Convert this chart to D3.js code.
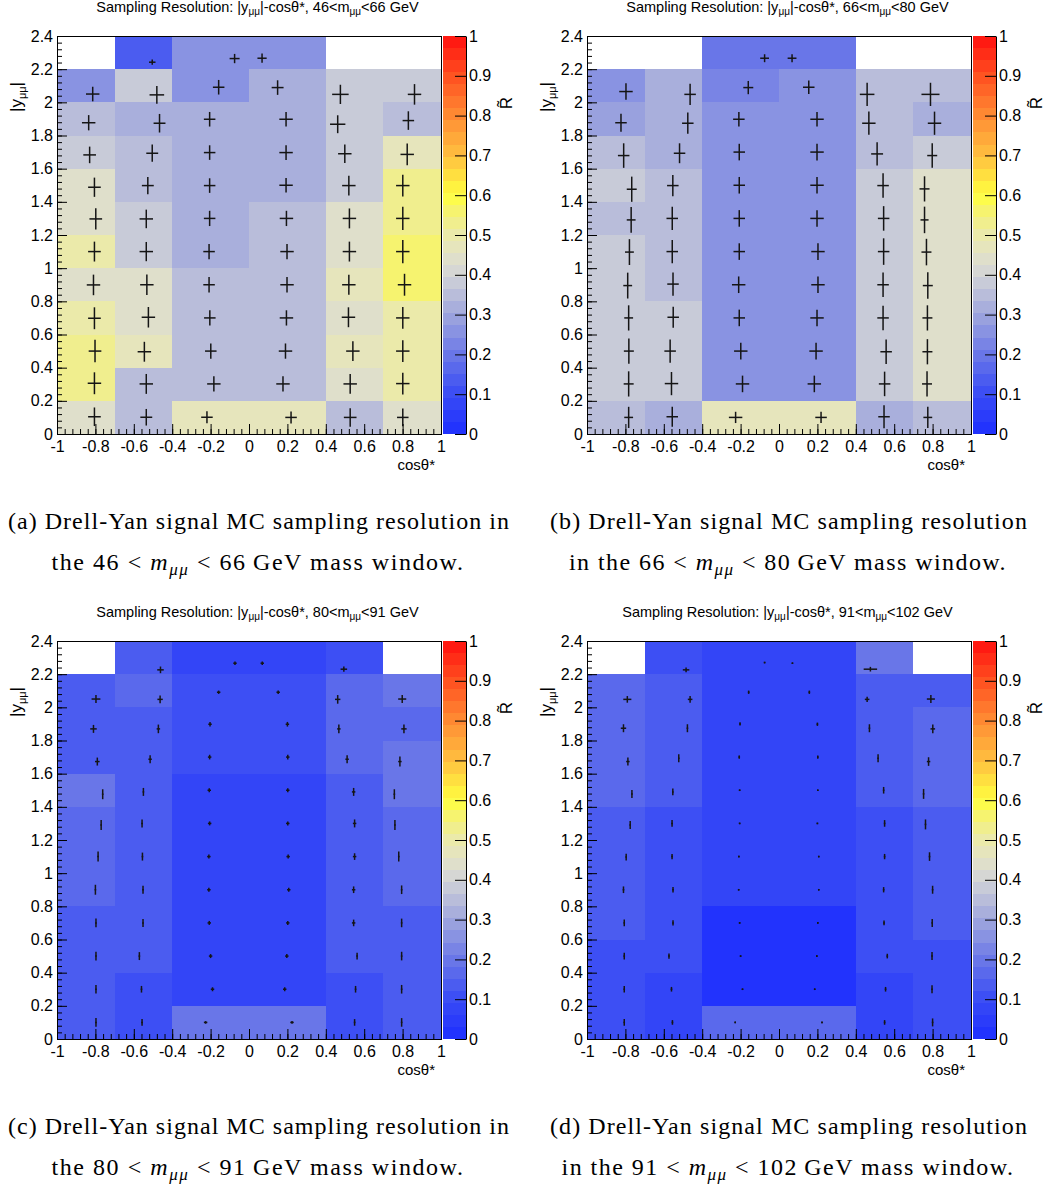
<!DOCTYPE html>
<html>
<head>
<meta charset="utf-8">
<script src="https://cdn.jsdelivr.net/npm/d3@7"></script>
<style>
  body { margin: 0; background: #fff; }
  svg { display: block; }
  text { font-family: "Liberation Sans", Arial, sans-serif; fill: #000; }
  .cap { font-family: "Liberation Serif", "Times New Roman", serif; font-size: 24px; }
</style>
</head>
<body>
<svg id="fig" width="1053" height="1188"></svg>
<script>
// bin edges and ticks
var xEdges = [-1, -0.7, -0.4, 0, 0.4, 0.7, 1];
var yEdges = [0, 0.2, 0.4, 0.6, 0.8, 1.0, 1.2, 1.4, 1.6, 1.8, 2.0, 2.2, 2.4];
var xTickVals = [-1, -0.8, -0.6, -0.4, -0.2, 0, 0.2, 0.4, 0.6, 0.8, 1];
var yTickVals = [0, 0.2, 0.4, 0.6, 0.8, 1, 1.2, 1.4, 1.6, 1.8, 2, 2.2, 2.4];
var zTickVals = [0, 0.1, 0.2, 0.3, 0.4, 0.5, 0.6, 0.7, 0.8, 0.9, 1];

// palette (blue -> grey -> yellow -> red), 33 discrete contours
var palStops = [0, 0.1, 0.2, 0.3, 0.4, 0.45, 0.5, 0.55, 0.6, 0.7, 0.8, 0.9, 1];
var palColors = ["#1e2eff", "#3a4cf5", "#6a77e8", "#a0a7dd", "#d3d5d7", "#e2e2c8", "#ebeaaa",
                 "#f3f07c", "#ffff40", "#ffc040", "#ff8a33", "#ff5020", "#ff1010"];
var nContours = 33;

// cell values R~, rows listed top (2.2-2.4) to bottom (0-0.2), columns by xEdges
var valuesA = [
  [null, 0.14, 0.26, 0.26, null, null],
  [0.26, 0.39, 0.26, 0.31, 0.39, 0.39],
  [0.36, 0.32, 0.31, 0.31, 0.38, 0.36],
  [0.39, 0.36, 0.31, 0.32, 0.39, 0.48],
  [0.45, 0.36, 0.32, 0.32, 0.39, 0.52],
  [0.45, 0.39, 0.32, 0.36, 0.43, 0.52],
  [0.50, 0.39, 0.32, 0.36, 0.43, 0.56],
  [0.45, 0.43, 0.36, 0.36, 0.46, 0.56],
  [0.50, 0.43, 0.36, 0.36, 0.43, 0.51],
  [0.54, 0.46, 0.36, 0.36, 0.46, 0.51],
  [0.54, 0.36, 0.36, 0.36, 0.43, 0.51],
  [0.43, 0.36, 0.46, 0.46, 0.36, 0.43]
];
var valuesB = [
  [null, null, 0.20, 0.20, null, null],
  [0.26, 0.32, 0.22, 0.26, 0.36, 0.36],
  [0.28, 0.32, 0.26, 0.27, 0.36, 0.32],
  [0.36, 0.32, 0.27, 0.27, 0.36, 0.39],
  [0.39, 0.36, 0.27, 0.27, 0.39, 0.43],
  [0.36, 0.36, 0.27, 0.27, 0.39, 0.43],
  [0.39, 0.36, 0.27, 0.27, 0.39, 0.43],
  [0.39, 0.36, 0.27, 0.27, 0.39, 0.43],
  [0.39, 0.39, 0.27, 0.27, 0.39, 0.43],
  [0.39, 0.39, 0.27, 0.27, 0.39, 0.43],
  [0.39, 0.39, 0.27, 0.27, 0.39, 0.43],
  [0.36, 0.32, 0.46, 0.46, 0.32, 0.36]
];
var valuesC = [
  [null, 0.14, 0.085, 0.085, 0.10, null],
  [0.14, 0.16, 0.105, 0.105, 0.16, 0.20],
  [0.14, 0.14, 0.105, 0.105, 0.16, 0.16],
  [0.14, 0.14, 0.105, 0.105, 0.16, 0.20],
  [0.20, 0.14, 0.08, 0.08, 0.14, 0.20],
  [0.16, 0.14, 0.08, 0.08, 0.14, 0.16],
  [0.16, 0.14, 0.08, 0.08, 0.14, 0.16],
  [0.16, 0.14, 0.08, 0.08, 0.14, 0.16],
  [0.14, 0.14, 0.08, 0.08, 0.14, 0.14],
  [0.14, 0.14, 0.08, 0.08, 0.14, 0.14],
  [0.14, 0.10, 0.08, 0.08, 0.10, 0.14],
  [0.14, 0.10, 0.20, 0.20, 0.10, 0.14]
];
var valuesD = [
  [null, 0.10, 0.085, 0.085, 0.20, null],
  [0.16, 0.14, 0.085, 0.085, 0.125, 0.125],
  [0.16, 0.14, 0.085, 0.085, 0.125, 0.16],
  [0.16, 0.14, 0.085, 0.085, 0.125, 0.16],
  [0.16, 0.14, 0.085, 0.085, 0.125, 0.16],
  [0.14, 0.105, 0.085, 0.085, 0.10, 0.14],
  [0.14, 0.105, 0.085, 0.085, 0.10, 0.14],
  [0.14, 0.105, 0.085, 0.085, 0.10, 0.14],
  [0.14, 0.105, 0.02, 0.02, 0.10, 0.14],
  [0.105, 0.105, 0.02, 0.02, 0.10, 0.105],
  [0.105, 0.085, 0.02, 0.02, 0.085, 0.105],
  [0.105, 0.085, 0.16, 0.16, 0.085, 0.105]
];

// markers: [mean cos, mean |y|, x error, y error]
var markersA = [
  [-0.504, 2.242, 0.017, 0.016], [-0.075, 2.264, 0.026, 0.028], [0.068, 2.266, 0.024, 0.028],
  [-0.814, 2.05, 0.035, 0.044], [-0.48, 2.045, 0.038, 0.054], [-0.158, 2.091, 0.030, 0.044],
  [0.149, 2.089, 0.031, 0.044], [0.476, 2.048, 0.043, 0.058], [0.862, 2.048, 0.035, 0.062],
  [-0.835, 1.877, 0.035, 0.046], [-0.466, 1.874, 0.031, 0.056], [-0.205, 1.898, 0.030, 0.044],
  [0.193, 1.898, 0.035, 0.044], [0.462, 1.868, 0.040, 0.054], [0.83, 1.89, 0.030, 0.056],
  [-0.83, 1.683, 0.033, 0.05], [-0.504, 1.693, 0.031, 0.052], [-0.205, 1.697, 0.030, 0.044],
  [0.193, 1.697, 0.035, 0.044], [0.499, 1.69, 0.035, 0.056], [0.824, 1.686, 0.035, 0.066],
  [-0.805, 1.488, 0.033, 0.058], [-0.527, 1.498, 0.031, 0.052], [-0.205, 1.498, 0.030, 0.044],
  [0.193, 1.50, 0.035, 0.044], [0.52, 1.498, 0.035, 0.06], [0.801, 1.498, 0.035, 0.066],
  [-0.798, 1.297, 0.033, 0.064], [-0.535, 1.297, 0.035, 0.056], [-0.205, 1.30, 0.030, 0.046],
  [0.195, 1.30, 0.035, 0.046], [0.523, 1.30, 0.035, 0.06], [0.801, 1.30, 0.035, 0.07],
  [-0.805, 1.10, 0.033, 0.06], [-0.535, 1.10, 0.035, 0.058], [-0.208, 1.10, 0.030, 0.046],
  [0.198, 1.10, 0.035, 0.046], [0.523, 1.10, 0.035, 0.06], [0.801, 1.10, 0.035, 0.07],
  [-0.81, 0.899, 0.035, 0.062], [-0.532, 0.90, 0.035, 0.062], [-0.208, 0.90, 0.030, 0.046],
  [0.198, 0.90, 0.035, 0.046], [0.52, 0.90, 0.035, 0.06], [0.81, 0.90, 0.035, 0.066],
  [-0.805, 0.698, 0.033, 0.066], [-0.524, 0.704, 0.035, 0.062], [-0.204, 0.70, 0.030, 0.046],
  [0.195, 0.70, 0.035, 0.046], [0.518, 0.704, 0.035, 0.06], [0.801, 0.70, 0.035, 0.066],
  [-0.802, 0.50, 0.033, 0.068], [-0.545, 0.496, 0.035, 0.06], [-0.199, 0.50, 0.030, 0.046],
  [0.19, 0.50, 0.035, 0.046], [0.541, 0.50, 0.035, 0.06], [0.801, 0.50, 0.035, 0.066],
  [-0.805, 0.306, 0.035, 0.066], [-0.535, 0.302, 0.035, 0.06], [-0.183, 0.302, 0.035, 0.046],
  [0.177, 0.302, 0.035, 0.046], [0.527, 0.302, 0.035, 0.06], [0.801, 0.304, 0.035, 0.066],
  [-0.805, 0.104, 0.033, 0.056], [-0.535, 0.101, 0.031, 0.05], [-0.219, 0.101, 0.030, 0.036],
  [0.219, 0.10, 0.030, 0.036], [0.527, 0.10, 0.033, 0.056], [0.801, 0.10, 0.030, 0.054]
];
var markersB = [
  [-0.075, 2.266, 0.023, 0.024], [0.068, 2.266, 0.023, 0.024],
  [-0.797, 2.065, 0.035, 0.05], [-0.463, 2.048, 0.030, 0.064], [-0.16, 2.089, 0.026, 0.04],
  [0.155, 2.091, 0.030, 0.04], [0.459, 2.048, 0.038, 0.07], [0.789, 2.048, 0.047, 0.07],
  [-0.823, 1.877, 0.030, 0.054], [-0.475, 1.874, 0.030, 0.064], [-0.209, 1.898, 0.030, 0.044],
  [0.198, 1.898, 0.035, 0.044], [0.468, 1.874, 0.035, 0.07], [0.81, 1.874, 0.035, 0.07],
  [-0.809, 1.679, 0.030, 0.074], [-0.518, 1.693, 0.030, 0.06], [-0.207, 1.70, 0.030, 0.05],
  [0.198, 1.70, 0.035, 0.05], [0.511, 1.689, 0.031, 0.07], [0.798, 1.679, 0.026, 0.074],
  [-0.767, 1.476, 0.026, 0.076], [-0.553, 1.498, 0.030, 0.064], [-0.207, 1.50, 0.030, 0.05],
  [0.198, 1.50, 0.035, 0.05], [0.542, 1.498, 0.030, 0.074], [0.758, 1.478, 0.026, 0.076],
  [-0.77, 1.291, 0.023, 0.078], [-0.556, 1.30, 0.030, 0.07], [-0.207, 1.30, 0.030, 0.05],
  [0.198, 1.30, 0.035, 0.05], [0.545, 1.30, 0.030, 0.074], [0.758, 1.291, 0.021, 0.08],
  [-0.779, 1.097, 0.023, 0.078], [-0.556, 1.10, 0.030, 0.07], [-0.207, 1.10, 0.030, 0.05],
  [0.203, 1.10, 0.035, 0.05], [0.545, 1.10, 0.030, 0.08], [0.768, 1.097, 0.026, 0.08],
  [-0.788, 0.895, 0.023, 0.078], [-0.552, 0.904, 0.030, 0.07], [-0.21, 0.90, 0.035, 0.05],
  [0.203, 0.90, 0.035, 0.05], [0.542, 0.90, 0.030, 0.074], [0.775, 0.895, 0.026, 0.08],
  [-0.783, 0.70, 0.023, 0.076], [-0.551, 0.704, 0.030, 0.064], [-0.207, 0.70, 0.030, 0.05],
  [0.198, 0.70, 0.035, 0.05], [0.542, 0.70, 0.030, 0.074], [0.773, 0.70, 0.026, 0.076],
  [-0.782, 0.50, 0.026, 0.076], [-0.567, 0.50, 0.030, 0.07], [-0.199, 0.50, 0.035, 0.05],
  [0.193, 0.50, 0.035, 0.05], [0.558, 0.496, 0.030, 0.074], [0.773, 0.496, 0.026, 0.076],
  [-0.783, 0.302, 0.026, 0.076], [-0.56, 0.304, 0.035, 0.07], [-0.19, 0.302, 0.035, 0.05],
  [0.184, 0.302, 0.035, 0.05], [0.55, 0.302, 0.030, 0.074], [0.771, 0.302, 0.026, 0.076],
  [-0.783, 0.10, 0.023, 0.064], [-0.556, 0.104, 0.030, 0.06], [-0.226, 0.10, 0.035, 0.034],
  [0.219, 0.10, 0.030, 0.034], [0.547, 0.104, 0.030, 0.07], [0.775, 0.10, 0.023, 0.064]
];
var markersC = [
  [-0.461, 2.226, 0.017, 0.02], [-0.073, 2.266, 0.009, 0.01], [0.069, 2.266, 0.009, 0.01], [0.494, 2.23, 0.017, 0.016],
  [-0.797, 2.05, 0.023, 0.024], [-0.463, 2.048, 0.014, 0.024], [-0.158, 2.091, 0.009, 0.01],
  [0.152, 2.091, 0.009, 0.01], [0.462, 2.048, 0.014, 0.026], [0.798, 2.05, 0.021, 0.024],
  [-0.81, 1.87, 0.017, 0.024], [-0.472, 1.87, 0.009, 0.026], [-0.203, 1.898, 0.009, 0.014],
  [0.2, 1.898, 0.009, 0.014], [0.468, 1.87, 0.009, 0.026], [0.807, 1.87, 0.014, 0.026],
  [-0.79, 1.673, 0.012, 0.024], [-0.515, 1.687, 0.009, 0.024], [-0.205, 1.70, 0.009, 0.014],
  [0.202, 1.70, 0.009, 0.014], [0.511, 1.687, 0.009, 0.024], [0.786, 1.673, 0.009, 0.03],
  [-0.762, 1.476, 0.004, 0.03], [-0.55, 1.49, 0.004, 0.024], [-0.207, 1.50, 0.009, 0.012],
  [0.202, 1.50, 0.009, 0.012], [0.545, 1.49, 0.009, 0.024], [0.757, 1.476, 0.004, 0.03],
  [-0.77, 1.291, 0.004, 0.03], [-0.557, 1.30, 0.004, 0.024], [-0.205, 1.30, 0.009, 0.012],
  [0.202, 1.30, 0.009, 0.012], [0.55, 1.30, 0.009, 0.024], [0.76, 1.291, 0.004, 0.03],
  [-0.786, 1.10, 0.004, 0.03], [-0.555, 1.10, 0.004, 0.024], [-0.209, 1.10, 0.009, 0.012],
  [0.204, 1.10, 0.009, 0.012], [0.55, 1.10, 0.009, 0.02], [0.78, 1.10, 0.004, 0.03],
  [-0.80, 0.90, 0.004, 0.03], [-0.552, 0.90, 0.004, 0.024], [-0.209, 0.90, 0.009, 0.012],
  [0.207, 0.90, 0.009, 0.012], [0.545, 0.90, 0.009, 0.02], [0.795, 0.90, 0.004, 0.026],
  [-0.797, 0.70, 0.004, 0.026], [-0.552, 0.70, 0.004, 0.024], [-0.207, 0.70, 0.009, 0.012],
  [0.202, 0.70, 0.009, 0.012], [0.545, 0.70, 0.009, 0.02], [0.795, 0.70, 0.004, 0.026],
  [-0.797, 0.50, 0.004, 0.026], [-0.571, 0.50, 0.004, 0.024], [-0.2, 0.50, 0.009, 0.012],
  [0.197, 0.50, 0.009, 0.012], [0.563, 0.50, 0.004, 0.02], [0.795, 0.50, 0.004, 0.026],
  [-0.797, 0.30, 0.004, 0.026], [-0.56, 0.30, 0.004, 0.02], [-0.19, 0.30, 0.009, 0.012],
  [0.186, 0.30, 0.009, 0.012], [0.555, 0.30, 0.004, 0.02], [0.795, 0.30, 0.004, 0.026],
  [-0.797, 0.10, 0.004, 0.026], [-0.557, 0.10, 0.004, 0.02], [-0.226, 0.10, 0.009, 0.008],
  [0.224, 0.10, 0.009, 0.008], [0.55, 0.10, 0.004, 0.02], [0.795, 0.10, 0.004, 0.026]
];
var markersD = [
  [-0.484, 2.226, 0.017, 0.014], [-0.075, 2.27, 0.004, 0.004], [0.07, 2.266, 0.004, 0.004], [0.476, 2.23, 0.035, 0.014],
  [-0.79, 2.048, 0.021, 0.02], [-0.463, 2.048, 0.012, 0.02], [-0.158, 2.091, 0.004, 0.01],
  [0.158, 2.091, 0.004, 0.01], [0.459, 2.048, 0.012, 0.016], [0.791, 2.05, 0.021, 0.024],
  [-0.81, 1.874, 0.014, 0.024], [-0.477, 1.874, 0.004, 0.024], [-0.203, 1.9, 0.004, 0.01],
  [0.2, 1.898, 0.004, 0.01], [0.471, 1.874, 0.004, 0.024], [0.801, 1.87, 0.012, 0.026],
  [-0.787, 1.673, 0.009, 0.024], [-0.522, 1.693, 0.004, 0.024], [-0.207, 1.70, 0.004, 0.01],
  [0.202, 1.70, 0.004, 0.01], [0.516, 1.693, 0.004, 0.024], [0.779, 1.673, 0.009, 0.026],
  [-0.766, 1.478, 0.004, 0.024], [-0.553, 1.49, 0.004, 0.02], [-0.205, 1.50, 0.003, 0.004],
  [0.202, 1.50, 0.003, 0.004], [0.545, 1.50, 0.004, 0.02], [0.753, 1.478, 0.004, 0.03],
  [-0.775, 1.291, 0.004, 0.024], [-0.557, 1.30, 0.004, 0.02], [-0.205, 1.30, 0.003, 0.004],
  [0.2, 1.30, 0.003, 0.004], [0.55, 1.30, 0.004, 0.02], [0.763, 1.294, 0.004, 0.03],
  [-0.796, 1.097, 0.004, 0.02], [-0.557, 1.10, 0.004, 0.016], [-0.209, 1.10, 0.003, 0.004],
  [0.207, 1.10, 0.003, 0.004], [0.55, 1.10, 0.004, 0.016], [0.784, 1.10, 0.004, 0.026],
  [-0.81, 0.90, 0.004, 0.02], [-0.552, 0.90, 0.004, 0.016], [-0.21, 0.90, 0.003, 0.004],
  [0.207, 0.90, 0.003, 0.004], [0.545, 0.90, 0.004, 0.016], [0.80, 0.90, 0.004, 0.024],
  [-0.806, 0.70, 0.004, 0.02], [-0.552, 0.70, 0.004, 0.016], [-0.205, 0.70, 0.003, 0.004],
  [0.202, 0.70, 0.003, 0.004], [0.547, 0.70, 0.004, 0.014], [0.798, 0.70, 0.004, 0.024],
  [-0.806, 0.50, 0.004, 0.02], [-0.573, 0.50, 0.004, 0.016], [-0.2, 0.50, 0.003, 0.004],
  [0.197, 0.50, 0.003, 0.004], [0.564, 0.50, 0.004, 0.014], [0.797, 0.50, 0.004, 0.024],
  [-0.806, 0.30, 0.004, 0.02], [-0.56, 0.30, 0.004, 0.014], [-0.19, 0.30, 0.003, 0.004],
  [0.186, 0.30, 0.003, 0.004], [0.555, 0.30, 0.004, 0.014], [0.797, 0.30, 0.004, 0.024],
  [-0.806, 0.10, 0.004, 0.02], [-0.555, 0.10, 0.004, 0.014], [-0.228, 0.10, 0.003, 0.004],
  [0.224, 0.10, 0.003, 0.004], [0.55, 0.10, 0.004, 0.014], [0.8, 0.10, 0.004, 0.024]
];

// mass windows and captions
var massLow = [46, 66, 80, 91];
var massHigh = [66, 80, 91, 102];
var captionTag = ["(a)", "(b)", "(c)", "(d)"];
var captionLine1 = ["Drell-Yan signal MC sampling resolution in", "Drell-Yan signal MC sampling resolution",
                    "Drell-Yan signal MC sampling resolution in", "Drell-Yan signal MC sampling resolution"];
var captionLead = ["the", "in the", "the", "in the"];

// layout
var plot = { left: 57, right: 441, top: 36, bottom: 434 };
var bar = { left: 443, right: 466 };
var panels = [
  { dx: 0,   dy: 0,   values: valuesA, markers: markersA, l1: [8, 510],  w2: 413 },
  { dx: 530, dy: 0,   values: valuesB, markers: markersB, l1: [20, 498], w2: 438 },
  { dx: 0,   dy: 605, values: valuesC, markers: markersC, l1: [8, 510],  w2: 413 },
  { dx: 530, dy: 605, values: valuesD, markers: markersD, l1: [20, 498], w2: 453 }
];

var svg = d3.select("#fig");

var grad = d3.scaleLinear().domain(palStops).range(palColors).interpolate(d3.interpolateRgb);
function palette(v) {
  var k = Math.min(nContours - 1, Math.floor(v * nContours));
  return grad((k + 0.5) / nContours);
}

var x = d3.scaleLinear().domain([-1, 1]).range([plot.left, plot.right]);
var y = d3.scaleLinear().domain([0, 2.4]).range([plot.bottom, plot.top]);
var z = d3.scaleLinear().domain([0, 1]).range([plot.bottom, plot.top]);

function styleAxis(sel, size) {
  sel.selectAll("text").style("font-family", "'Liberation Sans', Arial, sans-serif").style("font-size", size + "px").attr("fill", "#000");
  sel.selectAll("line").attr("stroke", "#000");
  sel.select(".domain").attr("stroke", "#000");
}

function drawPanel(p, i) {
  var g = svg.append("g").attr("transform", "translate(" + p.dx + "," + p.dy + ")");
  var nRows = yEdges.length - 1;

  // histogram cells
  var cells = [];
  p.values.forEach(function(row, r) {
    row.forEach(function(v, c) {
      if (v !== null) cells.push({ v: v, c: c, lo: yEdges[nRows - 1 - r], hi: yEdges[nRows - r] });
    });
  });
  g.selectAll("rect.cell").data(cells).join("rect")
    .attr("class", "cell")
    .attr("x", d => x(xEdges[d.c]))
    .attr("y", d => y(d.hi))
    .attr("width", d => x(xEdges[d.c + 1]) - x(xEdges[d.c]))
    .attr("height", d => y(d.lo) - y(d.hi))
    .attr("fill", d => palette(d.v))
    .attr("shape-rendering", "crispEdges");

  // error crosses
  function span(a, b) { // keep tiny bars visible
    var m = (a + b) / 2, h = Math.max(Math.abs(b - a) / 2, 0.8);
    return [m - h, m + h];
  }
  var mk = g.append("g").attr("stroke", "#151515").attr("stroke-width", 1.5);
  mk.selectAll("line.h").data(p.markers).join("line")
    .attr("class", "h")
    .attr("x1", d => span(x(d[0] - d[2]), x(d[0] + d[2]))[0])
    .attr("x2", d => span(x(d[0] - d[2]), x(d[0] + d[2]))[1])
    .attr("y1", d => y(d[1])).attr("y2", d => y(d[1]));
  mk.selectAll("line.v").data(p.markers).join("line")
    .attr("class", "v")
    .attr("x1", d => x(d[0])).attr("x2", d => x(d[0]))
    .attr("y1", d => span(y(d[1] - d[3]), y(d[1] + d[3]))[0])
    .attr("y2", d => span(y(d[1] - d[3]), y(d[1] + d[3]))[1]);

  // frame
  g.append("rect")
    .attr("x", plot.left).attr("y", plot.top)
    .attr("width", plot.right - plot.left).attr("height", plot.bottom - plot.top)
    .attr("fill", "none").attr("stroke", "#000").attr("stroke-width", 1)
    .attr("shape-rendering", "crispEdges");

  // axes (ROOT style: ticks inside)
  var xAxis = g.append("g").attr("transform", "translate(0," + plot.bottom + ")")
    .call(d3.axisBottom(x).tickValues(xTickVals).tickSize(-10).tickSizeOuter(0).tickPadding(7).tickFormat(d => d));
  styleAxis(xAxis, 16);
  var xMinor = g.append("g").attr("transform", "translate(0," + plot.bottom + ")")
    .call(d3.axisBottom(x).tickValues(d3.range(-1, 1.0001, 0.04)).tickSize(-5).tickFormat(""));
  xMinor.select(".domain").remove();
  styleAxis(xMinor, 16);

  var yAxis = g.append("g").attr("transform", "translate(" + plot.left + ",0)")
    .call(d3.axisLeft(y).tickValues(yTickVals).tickSize(-10).tickSizeOuter(0).tickPadding(4).tickFormat(d => d));
  styleAxis(yAxis, 16);
  var yMinor = g.append("g").attr("transform", "translate(" + plot.left + ",0)")
    .call(d3.axisLeft(y).tickValues(d3.range(0, 2.4001, 0.04)).tickSize(-5).tickFormat(""));
  yMinor.select(".domain").remove();
  styleAxis(yMinor, 16);

  // colour bar
  var bands = d3.range(nContours);
  g.selectAll("rect.band").data(bands).join("rect")
    .attr("class", "band")
    .attr("x", bar.left).attr("width", bar.right - bar.left)
    .attr("y", k => z((k + 1) / nContours))
    .attr("height", k => z(k / nContours) - z((k + 1) / nContours))
    .attr("fill", k => grad((k + 0.5) / nContours))
    .attr("shape-rendering", "crispEdges");
  var zAxis = g.append("g").attr("transform", "translate(" + bar.right + ",0)")
    .call(d3.axisRight(z).tickValues(zTickVals).tickSize(-11).tickSizeOuter(0).tickPadding(3).tickFormat(d => d));
  styleAxis(zAxis, 16);

  // title
  var t = g.append("text").attr("x", 257.5).attr("y", 12).attr("text-anchor", "middle").style("font-size", "14.5px");
  t.append("tspan").text("Sampling Resolution: |y");
  t.append("tspan").attr("dy", 3).style("font-size", "10px").text("\u03bc\u03bc");
  t.append("tspan").attr("dy", -3).text("|-cos\u03b8*, " + massLow[i] + "<m");
  t.append("tspan").attr("dy", 3).style("font-size", "10px").text("\u03bc\u03bc");
  t.append("tspan").attr("dy", -3).text("<" + massHigh[i] + " GeV");

  // axis titles
  var yt = g.append("text").attr("transform", "translate(22,82) rotate(-90)").attr("text-anchor", "end").style("font-size", "17px");
  yt.append("tspan").text("|y");
  yt.append("tspan").attr("dy", 4).style("font-size", "11px").text("\u03bc\u03bc");
  yt.append("tspan").attr("dy", -4).text("|");

  g.append("text").attr("x", 435).attr("y", 470).attr("text-anchor", "end").style("font-size", "15px").text("cos\u03b8*");

  g.append("text").attr("transform", "translate(512,97) rotate(-90)").attr("text-anchor", "end")
    .style("font-size", "17px").text("R\u0303");

  // caption
  var c1 = g.append("text").attr("class", "cap").attr("x", p.l1[0]).attr("y", 529)
    .text(captionTag[i] + " " + captionLine1[i]);
  var c2 = g.append("text").attr("class", "cap").attr("x", 258).attr("y", 570).attr("text-anchor", "middle");
  c2.append("tspan").text(captionLead[i] + " " + massLow[i] + " < ");
  c2.append("tspan").style("font-style", "italic").text("m");
  c2.append("tspan").attr("dy", 5).style("font-style", "italic").style("font-size", "17px").text("\u03bc\u03bc");
  c2.append("tspan").attr("dy", -5).text(" < " + massHigh[i] + "\u2009GeV mass window.");

  // spread the caption letters to the widths seen in the picture
  [[c1, p.l1[1] - p.l1[0]], [c2, p.w2]].forEach(function(e) {
    var n = e[0].node(), w = n.getComputedTextLength(), k = n.getNumberOfChars();
    e[0].style("letter-spacing", ((e[1] - w) / k) + "px");
  });
}

panels.forEach(drawPanel);
</script>
</body>
</html>
